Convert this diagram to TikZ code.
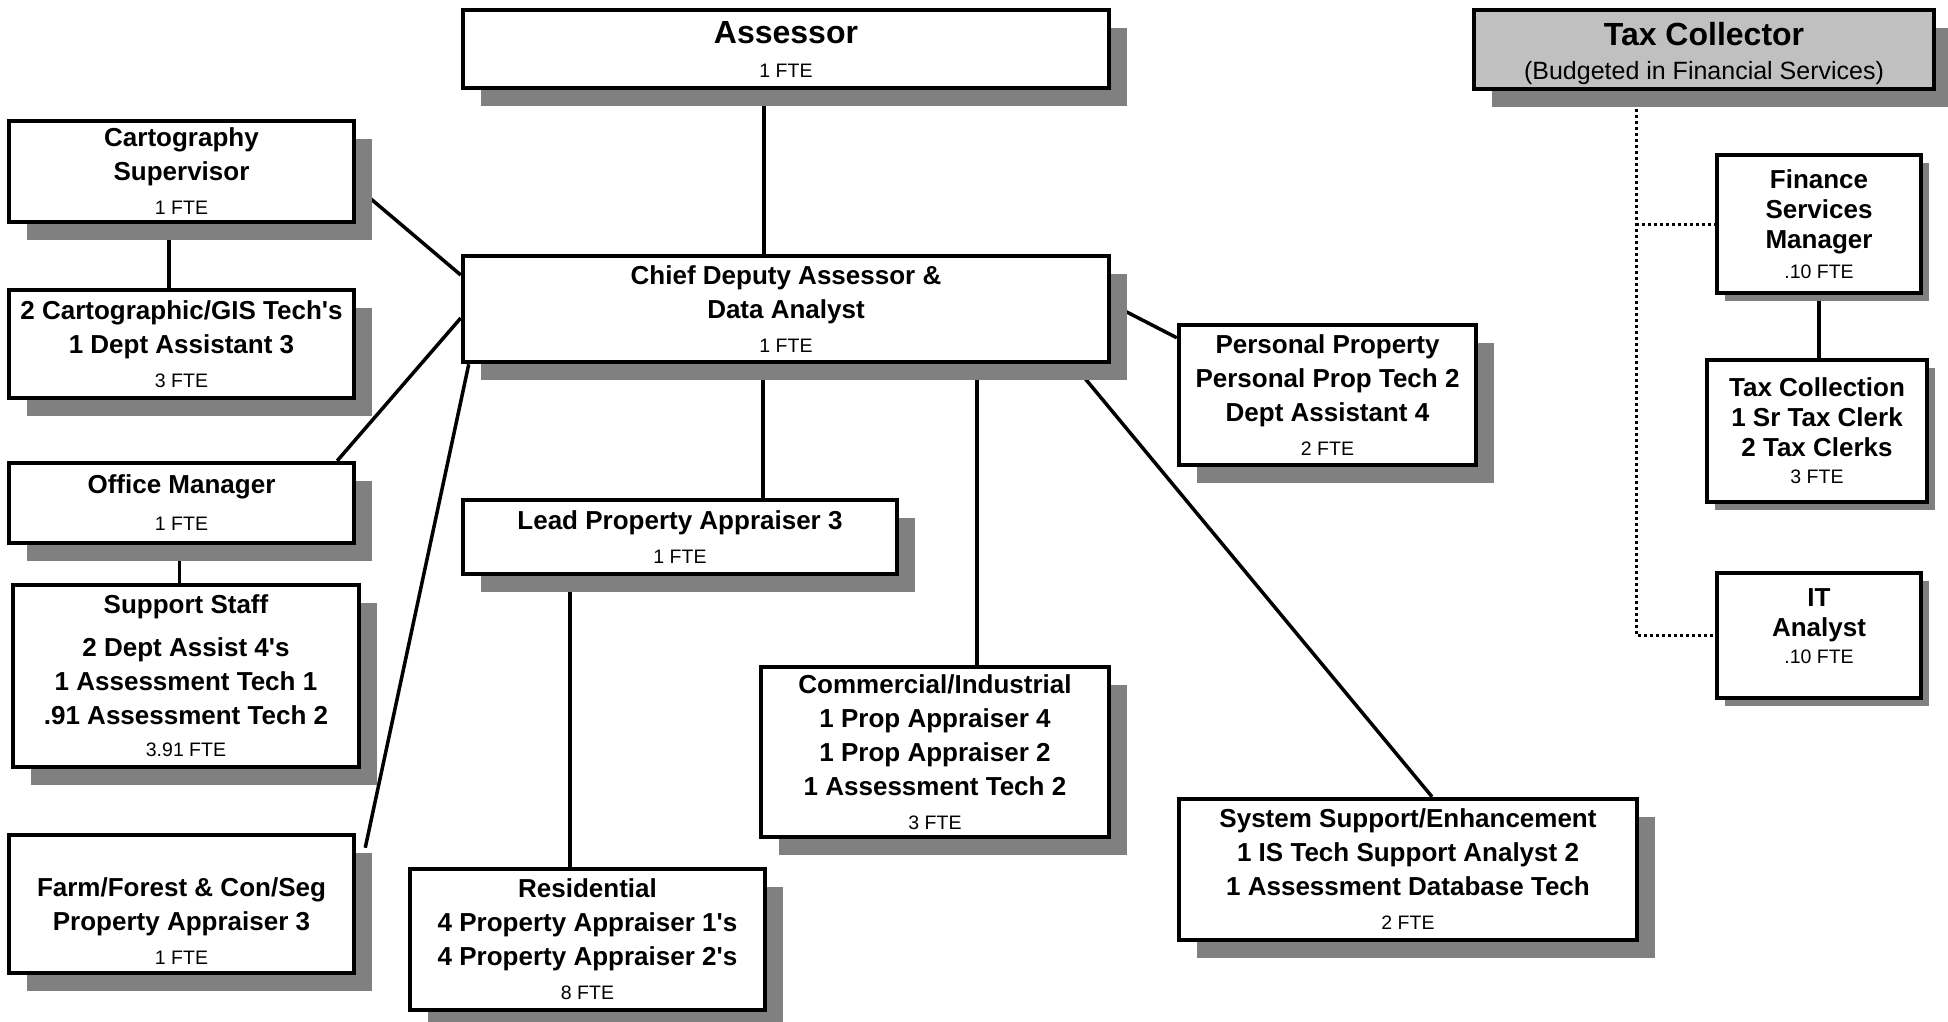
\documentclass[tikz,border=0pt]{standalone}
\usepackage{fontspec}
\setmainfont{Liberation Sans}
\usetikzlibrary{shadows,backgrounds}
\definecolor{shadowgray}{RGB}{128,128,128}
\definecolor{headgray}{RGB}{192,192,192}
\newcommand{\ttl}{\fontsize{32}{38}\selectfont\bfseries}
\newcommand{\fte}[1]{{\fontsize{19.5}{23}\selectfont\mdseries #1}}
\tikzset{
  card/.style={draw, line width=4.5pt, fill=white, align=center, inner sep=0pt,
    font=\fontsize{26}{34}\selectfont\bfseries},
  box/.style={card, drop shadow={shadow xshift=18pt, shadow yshift=-18pt, opacity=1, fill=shadowgray}},
  smallbox/.style={card, font=\fontsize{26}{30}\selectfont\bfseries,
    drop shadow={shadow xshift=8pt, shadow yshift=-8pt, opacity=1, fill=shadowgray}},
  link/.style={line width=3.5pt},
  dotline/.style={line width=3pt, dash pattern=on 3pt off 3pt}
}
\begin{document}
\begin{tikzpicture}[x=1pt, y=-1pt]
\useasboundingbox (0,0) rectangle (1948,1021);
\node [box, font=\ttl, minimum width=646pt, minimum height=78pt] (assessor) at (786,49) {Assessor\\[-4pt]\fte{1 FTE}};
\node [box, font=\ttl, fill=headgray, minimum width=460pt, minimum height=79pt] (taxcol) at (1704,49.5) {\rule{0pt}{31pt}Tax Collector\\[-4pt]{\fontsize{25}{30}\selectfont\mdseries (Budgeted in Financial Services)}};
\node [box, minimum width=345pt, minimum height=101pt] (carto) at (181.5,171.5) {Cartography\\Supervisor\\\fte{1 FTE}};
\node [box, minimum width=345pt, minimum height=108pt] (gis) at (181.5,344) {2 Cartographic/GIS Tech\textquotesingle s\\1 Dept Assistant 3\\\fte{3 FTE}};
\node [box, minimum width=646pt, minimum height=106pt] (chief) at (786,309) {Chief Deputy Assessor \&\\Data Analyst\\\fte{1 FTE}};
\node [box, minimum width=297pt, minimum height=140pt] (pp) at (1327.5,395) {Personal Property\\Personal Prop Tech 2\\Dept Assistant 4\\\fte{2 FTE}};
\node [smallbox, minimum width=204pt, minimum height=138pt] (finance) at (1819,224) {Finance\\Services\\Manager\\\fte{.10 FTE}};
\node [smallbox, minimum width=220pt, minimum height=142pt] (taxcl) at (1817,431) {Tax Collection\\1 Sr Tax Clerk\\2 Tax Clerks\\[-3pt]\fte{3 FTE}};
\node [smallbox, minimum width=204pt, minimum height=125pt] (it) at (1819,635.5) {IT\\Analyst\\[-3pt]\fte{.10 FTE}\rule[-18pt]{0pt}{18pt}};
\node [box, minimum width=345pt, minimum height=80pt] (office) at (181.5,503) {Office Manager\\[3pt]\fte{1 FTE}};
\node [box, minimum width=346pt, minimum height=182pt] (support) at (186,676) {Support Staff\\[9pt]2 Dept Assist 4\textquotesingle s\\1 Assessment Tech 1\\.91 Assessment Tech 2\\[-2pt]\fte{3.91 FTE}};
\node [box, minimum width=434pt, minimum height=74pt] (lead) at (680,537) {Lead Property Appraiser 3\\\fte{1 FTE}};
\node [box, minimum width=348pt, minimum height=170pt] (comm) at (935,752) {Commercial/Industrial\\1 Prop Appraiser 4\\1 Prop Appraiser 2\\1 Assessment Tech 2\\\fte{3 FTE}};
\node [box, minimum width=458pt, minimum height=141pt] (sys) at (1408,869.5) {System Support/Enhancement\\1 IS Tech Support Analyst 2\\1 Assessment Database Tech\\\fte{2 FTE}};
\node [box, minimum width=345pt, minimum height=138pt] (farm) at (181.5,904) {\rule{0pt}{53pt}Farm/Forest \& Con/Seg\\Property Appraiser 3\\\fte{1 FTE}};
\node [box, minimum width=355pt, minimum height=141pt] (res) at (587.5,939.5) {Residential\\4 Property Appraiser 1\textquotesingle s\\4 Property Appraiser 2\textquotesingle s\\\fte{8 FTE}};
\begin{scope}[on background layer]
\draw [link] ([xshift=-22pt]assessor.south) -- ([xshift=-22pt]chief.north);
\draw [link] ([xshift=-23pt]chief.south) -- ([xshift=83pt]lead.north);
\draw [link] ([xshift=191pt]chief.south) -- ([xshift=42pt]comm.north);
\draw [link] ([xshift=-110pt]lead.south) -- ([xshift=-17.5pt]res.north);
\draw [link] ([xshift=-12.5pt]carto.south) -- ([xshift=-12.5pt]gis.north);
\draw [link] ([xshift=-2pt]office.south) -- ([xshift=-6.5pt]support.north);
\draw [link] ([yshift=-15pt]carto.east) -- ([yshift=34pt]chief.west);
\draw [link] ([xshift=-19pt]office.north east) -- ([yshift=-9pt]chief.west);
\draw [link] ([xshift=9pt,yshift=-15pt]farm.north east) -- ([xshift=8pt]chief.south west);
\draw [link] ([yshift=5pt]chief.east) -- ([yshift=-15pt]pp.north west);
\draw [link] ([xshift=-38pt]chief.south east) -- ([xshift=24pt]sys.north);
\draw [link] (finance.south) -- (finance.south |- taxcl.north);
\coordinate (dotx) at ([xshift=-68pt]taxcol.south);
\draw [dotline] (dotx) |- (it.west);
\draw [dotline] (dotx |- finance.west) -- (finance.west);
\end{scope}
\end{tikzpicture}
\end{document}
